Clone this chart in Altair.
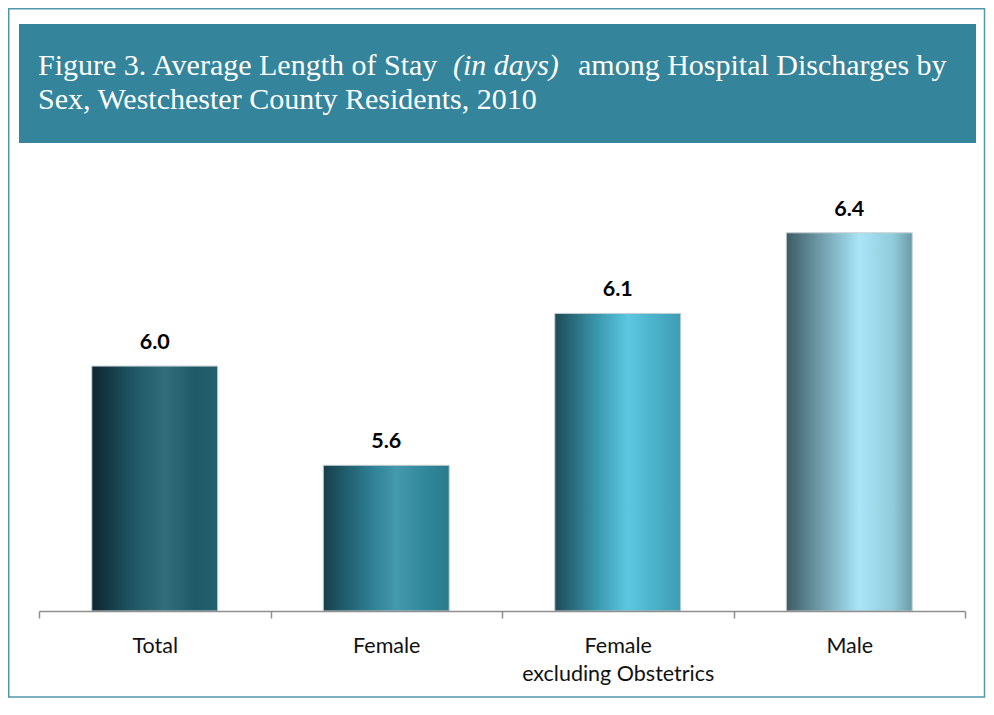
import altair as alt
import pandas as pd

# ---- data ----
categories = ["Total", "Female", "Female\nexcluding Obstetrics", "Male"]
avg_stay = [5.96, 5.64, 6.13, 6.39]          # labelled 6.0, 5.6, 6.1, 6.4
title_line1 = ["Figure 3.  Average Length of Stay", "(in days)", "among Hospital Discharges by"]
title_line2 = ["Sex, Westchester County Residents, 2010"]

df = pd.DataFrame({"cat": categories, "days": avg_stay})
one = pd.DataFrame({"k": [0]})

# ---- styles ----
W, H = 926, 451
Y_MIN = 5.17
Y_MAX = Y_MIN + H / 310.0
TEAL = "#34849b"

bar_stops = [
    [("#0f252d", 0.0), ("#1d5462", 0.3), ("#316e7c", 0.58), ("#1f5a68", 0.82), ("#23606e", 1.0)],
    [("#173f4b", 0.0), ("#2b7b8e", 0.35), ("#4499ad", 0.58), ("#2f8598", 0.85), ("#2b7a8c", 1.0)],
    [("#1d4b58", 0.0), ("#3c9bb1", 0.35), ("#5cc7e1", 0.58), ("#47abc3", 0.85), ("#3f9cb3", 1.0)],
    [("#3e5b64", 0.0), ("#7eafbf", 0.35), ("#a9e5f7", 0.58), ("#90cbdb", 0.85), ("#6c99a7", 1.0)],
]

x_enc = alt.X(
    "cat:N",
    sort=categories,
    scale=alt.Scale(domain=categories, paddingInner=0, paddingOuter=0),
    axis=alt.Axis(
        title=None, labelAngle=0, tickBand="extent",
        domainColor="#8f8f8f", domainWidth=1.5,
        tickColor="#8f8f8f", tickWidth=1.5, tickSize=7,
        labelFont="Lato", labelFontSize=21.5, labelColor="#111111",
        labelPadding=17, labelLineHeight=28, labelLimit=400,
        labelExpr="split(datum.label, '\\n')", zindex=1,
    ),
)
y_enc = alt.Y("days:Q", stack=None,
              scale=alt.Scale(domain=[Y_MIN, Y_MAX], zero=False, nice=False), axis=None)

base = alt.Chart(df)

frame = alt.Chart(one).mark_rect(fill="white", stroke="#4f97aa", strokeWidth=1.5).encode(
    x=alt.value(-30.25), x2=alt.value(945.5), y=alt.value(-151.25), y2=alt.value(537)
)
banner = alt.Chart(one).mark_rect(fill=TEAL).encode(
    x=alt.value(-20), x2=alt.value(937), y=alt.value(-136), y2=alt.value(-17)
)

title_font = dict(font="Liberation Serif", fontSize=30, color="white", align="left", baseline="alphabetic")
t1 = alt.Chart(pd.DataFrame({"t": [title_line1[0]]})).mark_text(**title_font).encode(
    text="t:N", x=alt.value(-1), y=alt.value(-85))
t2 = alt.Chart(pd.DataFrame({"t": [title_line1[1]]})).mark_text(fontStyle="italic", **title_font).encode(
    text="t:N", x=alt.value(414), y=alt.value(-85))
t3 = alt.Chart(pd.DataFrame({"t": [title_line1[2]]})).mark_text(**title_font).encode(
    text="t:N", x=alt.value(539), y=alt.value(-85))
t4 = alt.Chart(pd.DataFrame({"t": title_line2})).mark_text(**title_font).encode(
    text="t:N", x=alt.value(-1), y=alt.value(-51))

bars = []
for cat, stops in zip(categories, bar_stops):
    grad = alt.LinearGradient(
        gradient="linear", x1=0, x2=1, y1=0, y2=0,
        stops=[alt.GradientStop(color=c, offset=o) for c, o in stops],
    )
    bars.append(
        base.transform_filter(alt.datum.cat == cat)
        .mark_bar(color=grad, stroke="#c5cfd3", strokeWidth=1,
                  width=alt.RelativeBandSize(band=0.544))
        .encode(x=x_enc, y=y_enc, y2=alt.value(H))
    )

labels = base.mark_text(
    font="Lato", fontSize=21.5, fontWeight="bold", color="#000000",
    baseline="alphabetic", dy=-17
).encode(x=x_enc, y=y_enc, text=alt.Text("days:Q", format=".1f"))

chart = alt.layer(frame, banner, t1, t2, t3, t4, *bars, labels).properties(
    width=W, height=H,
    padding={"left": 31, "top": 152, "right": 21, "bottom": 89},
    autosize=alt.AutoSizeParams(type="none"),
).configure_view(stroke=None).configure(background="white")

chart.save("out.html", embed_options={"renderer": "svg", "actions": False})
